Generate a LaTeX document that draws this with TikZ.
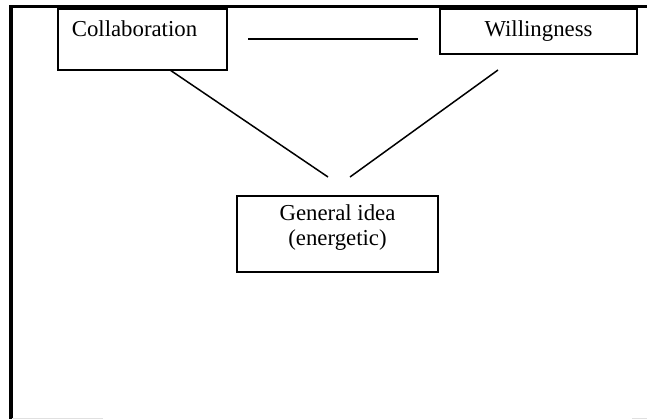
\documentclass[tikz,border=0pt]{standalone}
\usepackage{fontspec}
\setmainfont{Liberation Serif}
\begin{document}
\begin{tikzpicture}[x=1pt,y=-1pt,
  box/.style={draw=black,line width=1.5pt,inner sep=0pt},
  label/.style={font=\fontsize{22.8}{25.5}\selectfont,inner sep=0pt,anchor=base},
  link/.style={draw=black,line width=1.5pt},
  frame/.style={draw=black,line width=3.5pt},
  faint/.style={draw=black!12,line width=1.2pt}]
\useasboundingbox (0,0) rectangle (647,419);
% page frame
\draw[frame] (11,419) -- (11,6.5) -- (647,6.5);
\draw[faint] (12,418.3) -- (103,418.3);
\draw[faint] (632,418.3) -- (647,418.3);
% boxes
\node[box,minimum width=169pt,minimum height=61pt] (collab) at (142.5,39.5) {};
\node[label] (collabtxt) at (134.5,37) {Collaboration};
\node[box,minimum width=197pt,minimum height=45pt] (will) at (538.5,31.5) {};
\node[label] (willtxt) at (538.5,37) {Willingness};
\node[box,minimum width=201pt,minimum height=76pt] (gen) at (337.5,234) {};
\node[label,align=center,anchor=north] (gentxt) at (337.5,204) {General idea\\(energetic)};
% links
\coordinate (midA) at (248,39);
\coordinate (midB) at (418,39);
\draw[link] (midA) -- (midB);
\coordinate (leftTop) at (170,70);
\coordinate (leftEnd) at (328,177);
\coordinate (rightTop) at (498,70);
\coordinate (rightEnd) at (350,177);
\draw[link] (leftTop) -- (leftEnd);
\draw[link] (rightTop) -- (rightEnd);
\end{tikzpicture}
\end{document}
